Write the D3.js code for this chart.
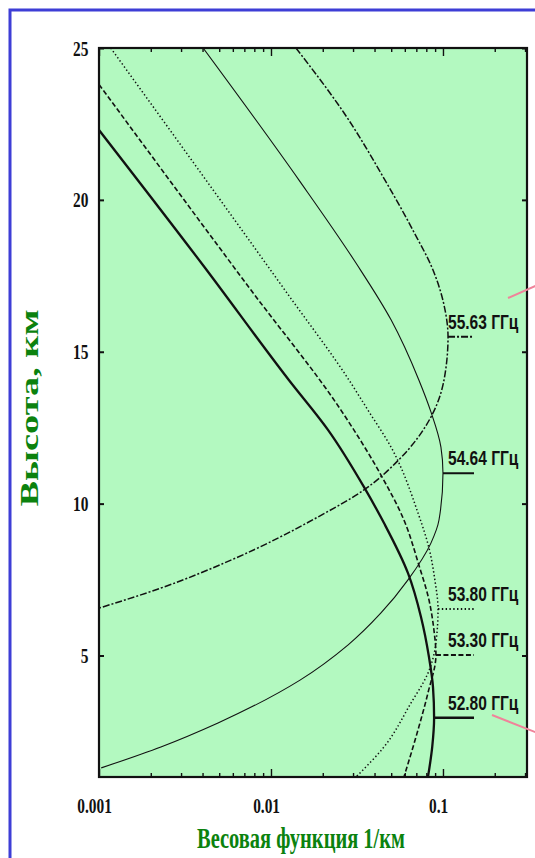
<!DOCTYPE html>
<html>
<head>
<meta charset="utf-8">
<script src="https://cdn.jsdelivr.net/npm/d3@7"></script>
<style>
  html, body { margin: 0; padding: 0; background: #ffffff; }
  svg { display: block; }
</style>
</head>
<body>
<svg id="chart" width="535" height="858"></svg>
<script>
// Weighting functions of the 50-60 GHz oxygen-band sounding channels
const channelLabels = ["52.80 ГГц", "53.30 ГГц", "53.80 ГГц", "54.64 ГГц", "55.63 ГГц"];

// Altitude (km) and weighting function (1/km) along each channel's curve
const altitudes5280 = [22.30, 17.79, 14.07, 12.42, 10.55, 9.36, 7.71, 6.27, 4.95, 3.96, 2.95, 1.99, 1.00];
const weights5280   = [0.0010, 0.0041, 0.0127, 0.0215, 0.0347, 0.0454, 0.0626, 0.0745, 0.0829, 0.0875, 0.0888, 0.0866, 0.0818];

const altitudes5330 = [23.80, 17.03, 13.08, 10.94, 9.46, 7.98, 6.83, 5.84, 5.02, 3.77, 2.65, 1.00];
const weights5330   = [0.0010, 0.00765, 0.0255, 0.0436, 0.0593, 0.0724, 0.0829, 0.0886, 0.0910, 0.0818, 0.0724, 0.0593];

const altitudes5380 = [25.0, 20.65, 16.93, 14.07, 13.08, 11.86, 9.69, 8.54, 7.49, 6.53, 5.41, 4.42, 3.44, 1.99, 1.00];
const weights5380   = [0.00117, 0.00419, 0.0124, 0.0284, 0.0366, 0.0499, 0.0716, 0.0829, 0.0897, 0.0936, 0.0910, 0.0818, 0.0652, 0.0454, 0.0312];

const altitudes5464 = [25.0, 20.65, 17.92, 16.05, 14.07, 13.02, 11.86, 11.0, 9.46, 8.70, 7.49, 6.40, 5.35, 4.19, 2.78, 1.99, 1.30];
const weights5464   = [0.00403, 0.01455, 0.0312, 0.0499, 0.0724, 0.0851, 0.0973, 0.100, 0.0948, 0.0851, 0.0626, 0.0436, 0.0281, 0.01475, 0.00492, 0.00229, 0.00103];

const altitudes5563 = [25.0, 22.86, 20.65, 19.0, 17.69, 16.54, 15.49, 14.07, 12.85, 11.44, 10.45, 9.56, 8.14, 7.22, 6.56];
const weights5563   = [0.01396, 0.0266, 0.0460, 0.0669, 0.0875, 0.1014, 0.107, 0.1014, 0.0851, 0.0553, 0.0347, 0.01875, 0.00585, 0.00229, 0.00100];

// Axis extents and labels
const weightDomain = [0.001, 0.308];
const altitudeDomain = [1, 25];
const xLabelTicks = [0.001, 0.01, 0.1];
const xTickLabels = ["0.001", "0.01", "0.1"];
const yTickValues = [5, 10, 15, 20, 25];
const yTickLabels = ["5", "10", "15", "20", "25"];
const xTitle = "Весовая функция 1/км";
const yTitle = "Высота, км";

const channels = [
  { label: channelLabels[0], h: altitudes5280, w: weights5280, dash: null,      width: 2.3 },
  { label: channelLabels[1], h: altitudes5330, w: weights5330, dash: "5,2.5",   width: 1.6 },
  { label: channelLabels[2], h: altitudes5380, w: weights5380, dash: "1.4,2.4", width: 1.5 },
  { label: channelLabels[3], h: altitudes5464, w: weights5464, dash: null,      width: 1.1 },
  { label: channelLabels[4], h: altitudes5563, w: weights5563, dash: "7,2,2,2", width: 1.5 }
];

const svg = d3.select("#chart");
const plot = { left: 99, top: 48, right: 527, bottom: 777 };
const green = "#0b820e";
const serif = "'Liberation Serif', 'Times New Roman', serif";

// Page border
svg.append("rect")
  .attr("x", 10).attr("y", 10).attr("width", 620).attr("height", 900)
  .attr("fill", "none").attr("stroke", "#3d3dd6").attr("stroke-width", 3);

const x = d3.scaleLog().domain(weightDomain).range([plot.left, plot.right]);
const y = d3.scaleLinear().domain(altitudeDomain).range([plot.bottom, plot.top]);

// Plot background
svg.append("rect")
  .attr("x", plot.left).attr("y", plot.top)
  .attr("width", plot.right - plot.left).attr("height", plot.bottom - plot.top)
  .attr("fill", "#b3f9c0");

svg.append("clipPath").attr("id", "plot-clip")
  .append("rect")
  .attr("x", plot.left).attr("y", plot.top)
  .attr("width", plot.right - plot.left).attr("height", plot.bottom - plot.top);

// Each profile is a function of altitude, so interpolate monotonically along y
const line = d3.line()
  .x(d => x(d[1]))
  .y(d => y(d[0]))
  .curve(d3.curveMonotoneY);

const curves = svg.append("g").attr("clip-path", "url(#plot-clip)");
channels.forEach(c => {
  const pts = c.h.map((h, i) => [h, c.w[i]]);
  curves.append("path")
    .attr("d", line(pts))
    .attr("fill", "none")
    .attr("stroke", "#111")
    .attr("stroke-width", c.width)
    .attr("stroke-dasharray", c.dash);
});

// Channel labels: a short line from each curve's maximum, with the frequency above it
const legend = svg.append("g");
channels.forEach(c => {
  const iMax = d3.maxIndex(c.w);
  const px = x(c.w[iMax]);
  const py = y(c.h[iMax]);
  legend.append("line")
    .attr("x1", px).attr("x2", 474)
    .attr("y1", py).attr("y2", py)
    .attr("stroke", "#111")
    .attr("stroke-width", Math.max(c.width, 1.6) + 0.4)
    .attr("stroke-dasharray", c.dash);
  // narrow the glyphs horizontally to a condensed face
  legend.append("text")
    .attr("transform", `translate(448,${py - 8}) scale(0.74,1)`)
    .attr("font-family", "'Liberation Sans', Arial, sans-serif")
    .attr("font-weight", "bold")
    .attr("font-size", 21)
    .attr("fill", "#111")
    .text(c.label);
});

// Log ticks on the bottom and top edges, pointing inward
const xTicks = x.ticks();
const isDecade = v => Math.abs(Math.log10(v) - Math.round(Math.log10(v))) < 1e-6;

const bottomAxis = svg.append("g")
  .attr("transform", `translate(0,${plot.bottom})`)
  .call(d3.axisBottom(x).tickValues(xTicks).tickSizeInner(-4).tickSizeOuter(0).tickFormat(""));
bottomAxis.selectAll(".tick").filter(isDecade).select("line").attr("y2", -8);

const topAxis = svg.append("g")
  .attr("transform", `translate(0,${plot.top})`)
  .call(d3.axisTop(x).tickValues(xTicks).tickSizeInner(-4).tickSizeOuter(0).tickFormat(""));
topAxis.selectAll(".tick").filter(isDecade).select("line").attr("y2", 8);

[bottomAxis, topAxis].forEach(g => {
  g.select(".domain").remove();
  g.selectAll("line").attr("stroke", "#111").attr("stroke-width", 1.4);
});

// Decade labels under the bottom edge
const xLabels = svg.append("g")
  .attr("transform", `translate(0,${plot.bottom})`)
  .call(d3.axisBottom(x).tickValues(xLabelTicks).tickSize(0).tickPadding(20)
    .tickFormat((d, i) => xTickLabels[i]));
xLabels.select(".domain").remove();
xLabels.selectAll("text")
  .attr("font-family", serif).attr("font-weight", "bold").attr("font-size", 22)
  .attr("fill", "#111")
  .attr("dx", -7)
  .attr("transform", "scale(0.7,1)");

// Altitude ticks on left and right edges
const leftAxis = svg.append("g")
  .attr("transform", `translate(${plot.left},0)`)
  .call(d3.axisLeft(y).tickValues(yTickValues).tickSizeInner(-5).tickSizeOuter(0).tickPadding(15)
    .tickFormat((d, i) => yTickLabels[i]));
leftAxis.select(".domain").remove();
leftAxis.selectAll("line").attr("stroke", "#111").attr("stroke-width", 2);
leftAxis.selectAll("text")
  .attr("font-family", serif).attr("font-weight", "bold").attr("font-size", 22)
  .attr("fill", "#111")
  .attr("transform", "scale(0.7,1)");

const rightAxis = svg.append("g")
  .attr("transform", `translate(${plot.right},0)`)
  .call(d3.axisRight(y).tickValues(yTickValues).tickSizeInner(-5).tickSizeOuter(0).tickFormat(""));
rightAxis.select(".domain").remove();
rightAxis.selectAll("line").attr("stroke", "#111").attr("stroke-width", 2);

// Plot frame
svg.append("rect")
  .attr("x", plot.left).attr("y", plot.top)
  .attr("width", plot.right - plot.left).attr("height", plot.bottom - plot.top)
  .attr("fill", "none").attr("stroke", "#111").attr("stroke-width", 2.2);

// Axis titles
svg.append("text")
  .attr("x", 301).attr("y", 848)
  .attr("text-anchor", "middle")
  .attr("font-family", serif).attr("font-weight", "bold").attr("font-size", 30)
  .attr("fill", green)
  .attr("textLength", 208).attr("lengthAdjust", "spacingAndGlyphs")
  .text(xTitle);

svg.append("text")
  .attr("transform", "translate(38,408) rotate(-90)")
  .attr("text-anchor", "middle")
  .attr("font-family", serif).attr("font-weight", "bold").attr("font-size", 25)
  .attr("fill", green)
  .attr("textLength", 197).attr("lengthAdjust", "spacingAndGlyphs")
  .text(yTitle);

// Pointer strokes running off the right margin
const pointers = svg.append("g").attr("stroke", "#f0839a").attr("stroke-width", 2);
pointers.append("line").attr("x1", 508).attr("y1", 298).attr("x2", 540).attr("y2", 284);
pointers.append("line").attr("x1", 492).attr("y1", 715).attr("x2", 540).attr("y2", 734);
</script>
</body>
</html>
